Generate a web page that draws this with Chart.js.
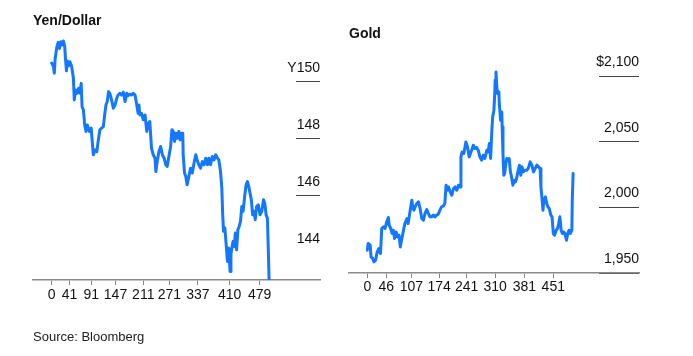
<!DOCTYPE html>
<html>
<head>
<meta charset="utf-8">
<script src="https://cdn.jsdelivr.net/npm/chart.js@4/dist/chart.umd.min.js"></script>
<style>
  html, body { margin: 0; padding: 0; background: #fff; }
  #wrap { position: relative; width: 693px; height: 356px; overflow: hidden; background: #fff; }
  #yenCanvas { position: absolute; left: 0; top: 0; }
  #goldCanvas { position: absolute; left: 340px; top: 0; }
  #source { position: absolute; left: 33px; top: 329px; font: 13px/16px "Liberation Sans", Arial, sans-serif; color: #222; }
</style>
</head>
<body>
<div id="wrap">
  <canvas id="yenCanvas" width="340" height="356"></canvas>
  <canvas id="goldCanvas" width="353" height="356"></canvas>
  <div id="source">Source: Bloomberg</div>
</div>
<script>
// ---- Yen/Dollar ----
const yenTitle = 'Yen/Dollar';
const yenIdx = [0,4,6,8,12,15,18,21,24,27,30,32,34,36,39,42,46,50,52,55,58,62,65,68,70,73,76,79,82,87,91,94,96,100,104,107,111,115,119,122,125,128,131,134,138,142,146,150,153,157,161,165,169,173,176,180,184,188,192,196,199,201,203,207,211,215,219,223,226,230,234,238,240,243,247,251,255,259,263,266,270,274,277,280,283,286,289,293,296,299,302,303,306,309,312,316,320,324,328,332,335,339,343,347,351,355,359,362,366,370,374,378,382,385,389,392,394,396,399,402,405,408,411,413,415,418,421,423,426,429,432,435,438,441,445,448,451,454,457,460,463,466,469,472,476,480,484,488,491,494,497,499,501];
const yenValues = [150.66,150.54,150.31,150.83,151.24,151.39,151.18,151.41,151.30,151.44,151.24,150.77,150.39,150.74,150.57,150.71,150.54,150.13,149.37,149.72,149.60,149.78,149.60,149.95,149.13,149.02,148.49,148.26,148.49,148.26,148.38,147.79,147.44,147.61,147.55,147.91,148.32,148.38,148.43,148.84,149.19,149.31,149.66,149.60,149.37,149.08,149.19,149.43,149.54,149.60,149.54,149.64,149.31,149.60,149.52,149.57,149.54,149.60,149.54,149.19,148.90,149.19,148.84,148.90,148.67,148.84,148.26,148.55,148.61,147.67,147.44,147.32,146.85,147.20,147.55,147.73,147.44,147.32,147.09,147.03,147.38,147.73,148.32,148.26,147.91,148.20,148.02,148.26,147.96,148.20,148.20,147.44,146.80,146.68,146.39,146.68,146.97,146.80,147.15,147.44,147.26,147.09,146.97,147.20,147.09,147.32,147.09,147.32,147.09,147.38,147.26,147.44,147.32,147.26,146.85,146.27,145.33,144.75,144.87,144.28,143.69,144.16,143.34,143.93,144.16,144.40,144.22,144.69,144.10,144.81,144.92,145.10,145.62,145.45,146.03,146.39,146.50,146.33,146.09,145.86,145.33,145.45,145.16,145.62,145.68,145.33,145.45,145.86,145.74,145.33,145.22,144.16,142.99];
const yenXTicks = [0,41,91,147,211,271,337,410,479];
const yenYTicks = [144,146,148,150];
const yenYLabels = ['144','146','148','Y150'];
const yenNoGridValue = 144;
const yenXRange = [-43.1, 618.2];
const yenYRange = [143.04, 151.65];

// ---- Gold ----
const goldTitle = 'Gold';
const goldIdx = [0,2,7,9,13,16,20,24,28,32,35,39,43,47,51,53,57,60,63,66,70,73,77,80,83,87,91,96,99,104,108,110,113,116,120,124,128,132,136,140,144,148,152,156,160,164,168,172,176,180,184,188,191,194,197,201,205,209,213,217,221,225,227,230,234,239,243,247,249,253,257,261,265,269,273,277,281,285,290,293,296,299,302,304,307,309,310,312,314,316,319,320,322,323,326,327,329,331,333,336,338,341,344,347,349,353,356,359,362,365,369,372,375,378,382,387,390,395,399,403,407,411,415,419,421,424,426,428,432,435,438,441,445,448,451,454,458,461,464,467,470,473,476,479,483,486,489,492,496,497,499];
const goldValues = [1967.4,1972.5,1971.2,1962.3,1961.1,1958.5,1959.8,1966.1,1968.7,1964.9,1983.9,1985.1,1983.9,1988.9,1992.3,1986.4,1983.9,1980.1,1982.6,1976.3,1981.3,1977.5,1978.8,1969.9,1975.0,1981.3,1987.7,1991.5,1987.7,1997.9,2005.5,2000.4,1997.9,2000.4,2003.0,2004.2,1999.2,1991.5,1990.2,1995.4,1998.4,1995.4,1992.8,1992.8,1994.1,1992.8,1994.1,1994.8,1997.9,2000.4,2000.9,2003.0,2016.9,2013.1,2015.6,2011.8,2009.3,2014.4,2015.6,2013.1,2016.9,2015.6,2038.5,2042.3,2041.1,2049.9,2046.1,2038.5,2038.5,2043.6,2047.4,2044.9,2045.7,2043.6,2038.5,2036.0,2039.8,2037.3,2043.6,2042.3,2048.7,2037.3,2058.8,2069.0,2074.1,2086.8,2097.0,2103.3,2091.8,2086.8,2088.0,2079.2,2071.6,2066.5,2072.8,2061.4,2041.1,2024.5,2025.8,2033.5,2037.3,2036.0,2037.3,2027.1,2024.5,2016.9,2020.7,2019.4,2022.0,2027.1,2032.2,2024.5,2030.9,2027.1,2028.4,2028.4,2029.6,2034.7,2032.2,2027.1,2029.6,2032.2,2030.9,2029.6,2015.6,2005.5,1997.9,2005.5,2008.0,2003.0,2000.4,1999.2,1994.1,1992.8,1980.1,1978.8,1982.6,1983.9,1987.7,1992.8,1982.6,1980.1,1981.3,1980.1,1975.0,1980.1,1982.6,1980.1,1982.6,2005.5,2025.8];
const goldXTicks = [0,46,107,174,241,310,381,451];
const goldYTicks = [1950,2000,2050,2100];
const goldYLabels = ['1,950','2,000','2,050','$2,100'];
const goldNoGridValue = null;
const goldXRange = [-44.4, 658.8];
const goldYRange = [1950, 2121.5];

const FONT = '"Liberation Sans", Arial, Helvetica, sans-serif';
const LINE_COLOR = '#1377ff';

function makeChart(canvasId, cfg) {
  const pts = cfg.idx.map((x, i) => ({ x: x, y: cfg.values[i] }));
  return new Chart(document.getElementById(canvasId), {
    type: 'line',
    data: {
      datasets: [{
        data: pts,
        borderColor: LINE_COLOR,
        borderWidth: 3,
        pointRadius: 0,
        tension: 0,
        borderJoinStyle: 'round',
        borderCapStyle: 'round',
        fill: false
      }]
    },
    options: {
      responsive: false,
      animation: false,
      events: [],
      layout: { padding: cfg.padding },
      plugins: {
        legend: { display: false },
        tooltip: { enabled: false },
        title: {
          display: true,
          text: cfg.title,
          align: 'start',
          color: '#111',
          font: { family: FONT, size: 14, weight: 'bold', lineHeight: 1 },
          padding: cfg.titlePadding
        }
      },
      scales: {
        x: {
          type: 'linear',
          position: 'bottom',
          min: cfg.xRange[0],
          max: cfg.xRange[1],
          bounds: 'data',
          afterBuildTicks: s => { s.ticks = cfg.xTicks.map(v => ({ value: v })); },
          afterFit: s => { s.height = 26; },
          grid: { display: true, drawOnChartArea: false, drawTicks: true, tickLength: 5, color: '#888', lineWidth: 1 },
          border: { display: true, color: '#8a8a8a', width: 1.5 },
          ticks: {
            autoSkip: false, maxRotation: 0, padding: cfg.xPad,
            color: '#111', font: { family: FONT, size: 14 },
            callback: v => String(v)
          }
        },
        y: {
          type: 'linear',
          position: 'right',
          min: cfg.yRange[0],
          max: cfg.yRange[1],
          bounds: 'data',
          afterBuildTicks: s => { s.ticks = cfg.yTicks.map(v => ({ value: v })); },
          afterFit: s => { s.width = 0; },
          grid: {
            display: true, drawOnChartArea: false, drawTicks: true,
            tickLength: cfg.gridLen,
            lineWidth: 1,
            color: c => (c.tick && c.tick.value === cfg.noGrid) ? 'rgba(0,0,0,0)' : '#444',
            tickColor: c => (c.tick && c.tick.value === cfg.noGrid) ? 'rgba(0,0,0,0)' : '#444'
          },
          border: { display: false },
          ticks: {
            mirror: true, crossAlign: 'near', padding: 0, labelOffset: -14,
            color: '#111', font: { family: FONT, size: 14 },
            callback: (v, i) => cfg.yLabels[i]
          }
        }
      }
    }
  });
}

makeChart('yenCanvas', {
  title: yenTitle, idx: yenIdx, values: yenValues,
  xTicks: yenXTicks, yTicks: yenYTicks, yLabels: yenYLabels, noGrid: yenNoGridValue,
  xRange: yenXRange, yRange: yenYRange,
  padding: { left: 33, right: 20, top: 0, bottom: 50 },
  titlePadding: { top: 14, bottom: 7 },
  gridLen: -24, xPad: 2
});

makeChart('goldCanvas', {
  title: goldTitle, idx: goldIdx, values: goldValues,
  xTicks: goldXTicks, yTicks: goldYTicks, yLabels: goldYLabels, noGrid: goldNoGridValue,
  xRange: goldXRange, yRange: goldYRange,
  padding: { left: 9, right: 54, top: 0, bottom: 57 },
  titlePadding: { top: 27, bottom: 7 },
  gridLen: -40, xPad: 1
});
</script>
</body>
</html>
